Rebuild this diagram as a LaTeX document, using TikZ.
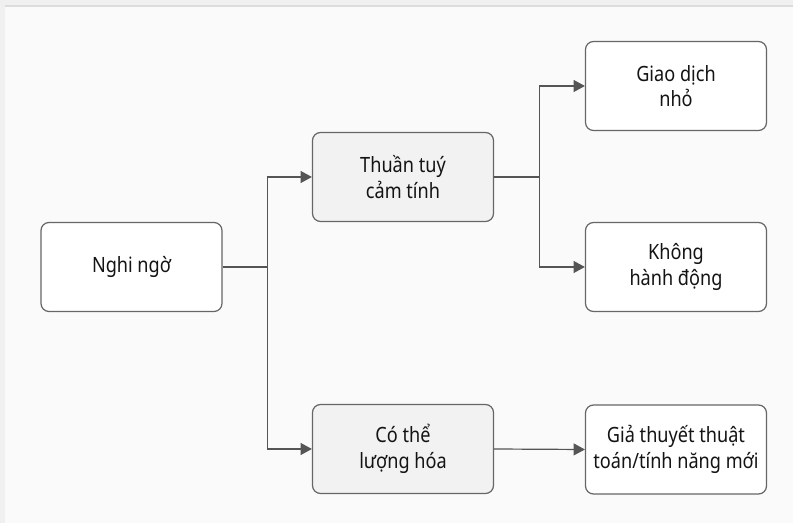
\documentclass[tikz,border=0pt]{standalone}
\usepackage{fontspec}
\setmainfont[FakeStretch=0.86]{Noto Sans}
\usepackage{tikz}
\usetikzlibrary{arrows.meta,positioning,calc}
\definecolor{nen}{HTML}{FAFAFA}
\definecolor{vien}{HTML}{F0F0F0}
\definecolor{gach}{HTML}{DCDCDC}
\definecolor{khung}{HTML}{666666}
\definecolor{xam}{HTML}{F2F2F2}
\definecolor{mui}{HTML}{555555}
\tikzset{
  khoi/.style={rectangle, rounded corners=6pt, draw=khung, line width=0.9pt, fill=#1,
               align=center, text=black!92, font=\fontsize{15.8}{19.3}\selectfont,
               minimum width=135.75pt, minimum height=66.75pt, inner sep=2pt},
  arr/.style={-{Triangle[length=8.5pt, width=9pt]}, line width=0.9pt, draw=mui},
  noi/.style={line width=0.9pt, draw=mui},
}
\begin{document}
\begin{tikzpicture}[x=0.75pt, y=-0.75pt]
  % khung nen
  \fill[vien] (0,0) rectangle (793,523);
  \fill[nen] (5,7) rectangle (793,523);
  \fill[gach] (5,5) rectangle (793,7.5);
  \useasboundingbox (0,0) rectangle (793,523);

  \node[khoi=white] (nghi) at (131.5,267) {Nghi ngờ};
  \node[khoi=xam] (camtinh) at (403,177) {Thuần tuý\\cảm tính};
  \node[khoi=xam] (dinhluong) at (403,449) {Có thể\\lượng hóa};
  \node[khoi=white] (giaodich) at (676,86) {Giao dịch\\nhỏ};
  \node[khoi=white] (khong) at (676,267) {Không\\hành động};
  \node[khoi=white] (giathuyet) at (676,449.5) {Giả thuyết thuật\\toán/tính năng mới};

  \coordinate (re1) at ($(nghi.east)!0.5!(camtinh.west |- nghi.east)$);
  \coordinate (re2) at ($(camtinh.east)!0.5!(giaodich.west |- camtinh.east)$);

  \draw[noi] (nghi.east) -- (re1);
  \draw[arr] (re1) |- (camtinh.west);
  \draw[arr] (re1) |- (dinhluong.west);
  \draw[noi] (camtinh.east) -- (re2);
  \draw[arr] (re2) |- (giaodich.west);
  \draw[arr] (re2) |- (khong.west);
  \draw[arr] (dinhluong.east) -- (giathuyet.west);
\end{tikzpicture}
\end{document}
